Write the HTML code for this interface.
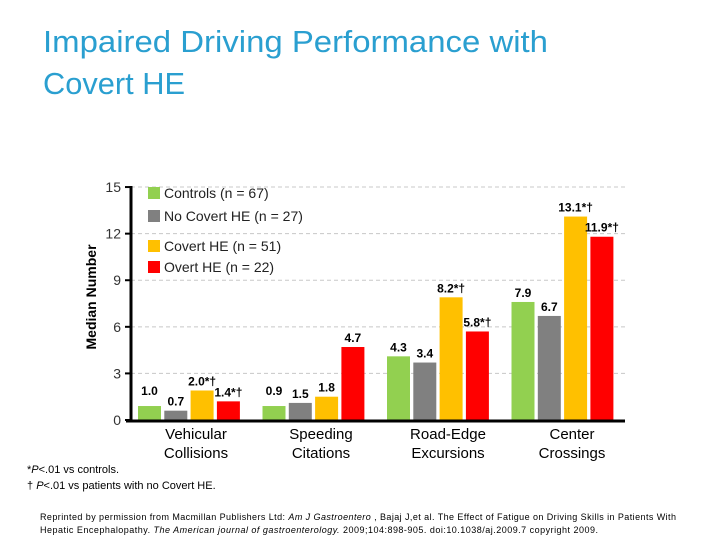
<!DOCTYPE html>
<html><head><meta charset="utf-8"><style>
body{margin:0;background:#fff;}
svg{display:block;font-family:"Liberation Sans",Arial,sans-serif;}
</style></head><body>
<svg id="c" width="720" height="540" viewBox="0 0 720 540">
<text x="43" y="52" font-size="31" fill="#2a9fd0" textLength="505" lengthAdjust="spacingAndGlyphs">Impaired Driving Performance with</text>
<text x="43" y="94" font-size="31" fill="#2a9fd0" textLength="142" lengthAdjust="spacingAndGlyphs">Covert HE</text>
<text transform="translate(96,297) rotate(-90)" text-anchor="middle" font-size="14" font-weight="bold">Median Number</text>
<g id="grid"></g><g id="bars"></g><g id="axes"></g><g id="legend"></g>
<text font-size="15" text-anchor="middle"><tspan x="196" y="439">Vehicular</tspan><tspan x="196" y="458">Collisions</tspan></text>
<text font-size="15" text-anchor="middle"><tspan x="321" y="439">Speeding</tspan><tspan x="321" y="458">Citations</tspan></text>
<text font-size="15" text-anchor="middle"><tspan x="448" y="439">Road-Edge</tspan><tspan x="448" y="458">Excursions</tspan></text>
<text font-size="15" text-anchor="middle"><tspan x="572" y="439">Center</tspan><tspan x="572" y="458">Crossings</tspan></text>
<text x="27" y="473" font-size="11">*<tspan font-style="italic">P</tspan>&lt;.01 vs controls.</text>
<text x="27" y="489" font-size="11">† <tspan font-style="italic">P</tspan>&lt;.01 vs patients with no Covert HE.</text>
<text x="40" y="520" font-size="9" textLength="636">Reprinted by permission from Macmillan Publishers Ltd: <tspan font-style="italic">Am J Gastroentero</tspan> , Bajaj J,et al. The Effect of Fatigue on Driving Skills in Patients With</text>
<text x="40" y="533" font-size="9" textLength="558">Hepatic Encephalopathy. <tspan font-style="italic">The American journal of gastroenterology.</tspan> 2009;104:898-905. doi:10.1038/aj.2009.7  copyright 2009.</text>
</svg>
<script>
const categories=["Vehicular Collisions","Speeding Citations","Road-Edge Excursions","Center Crossings"];
const seriesNames=["Controls (n = 67)","No Covert HE (n = 27)","Covert HE (n = 51)","Overt HE (n = 22)"];
const controls=[0.9,0.9,4.1,7.6];
const noCovert=[0.6,1.1,3.7,6.7];
const covert=[1.9,1.5,7.9,13.1];
const overt=[1.2,4.7,5.7,11.8];
const labelsControls=["1.0","0.9","4.3","7.9"];
const labelsNoCovert=["0.7","1.5","3.4","6.7"];
const labelsCovert=["2.0*†","1.8","8.2*†","13.1*†"];
const labelsOvert=["1.4*†","4.7","5.8*†","11.9*†"];
const yTicks=[0,3,6,9,12,15];
const NS="http://www.w3.org/2000/svg";
const colors=["#92d050","#808080","#ffc000","#ff0000"];
const y0=420,ppu=15.53;
function yScale(v){return y0-v*ppu;}
function xGroup(i){return 138+i*124.5;}
function mk(t,a,p){const e=document.createElementNS(NS,t);for(const k in a)e.setAttribute(k,a[k]);p.appendChild(e);return e;}
const grid=document.getElementById('grid'),bars=document.getElementById('bars'),axes=document.getElementById('axes'),legend=document.getElementById('legend');
yTicks.forEach(t=>{
 if(t>0){const g=mk('line',{x1:131,x2:625,y1:yScale(t),y2:yScale(t),stroke:'#c8c8c8','stroke-dasharray':'4,3'},grid);
 
 }
 const tk=mk('line',{x1:125,x2:131,y1:yScale(t),y2:yScale(t),stroke:'#000','stroke-width':2},axes);
 
 
 const tl=mk('text',{x:121,y:yScale(t)+5,'text-anchor':'end','font-size':14,fill:'#333'},axes);
 tl.textContent=t;
 
 
});
const ax=mk('line',{x1:131,x2:131,y1:yScale(15)-1,y2:y0+2,stroke:'#000','stroke-width':3},axes);


const bx=mk('line',{x1:126,x2:625,y1:y0+1,y2:y0+1,stroke:'#000','stroke-width':3},axes);


const series=[controls,noCovert,covert,overt],labs=[labelsControls,labelsNoCovert,labelsCovert,labelsOvert];
categories.forEach((c,i)=>{
 series.forEach((s,j)=>{
  const x=xGroup(i)+j*26.3,w=23;
  const r=mk('rect',{x:x,y:yScale(s[i]),width:w,height:s[i]*ppu,fill:colors[j]},bars);
  
  
  const t=mk('text',{x:x+w/2,y:yScale(s[i])-5-(j==0&&i<2?6:0),'text-anchor':'middle','font-size':12,'font-weight':'bold'},bars);
  t.textContent=labs[j][i];
  
  
 });
});
const ly=[193,216,246,267];
seriesNames.forEach((n,j)=>{
 const r=mk('rect',{x:148,y:ly[j]-6,width:12,height:12,fill:colors[j]},legend);
 
 
 const t=mk('text',{x:164,y:ly[j]+5,'font-size':14,fill:'#222'},legend);
 t.textContent=n;
 
 
});
</script>
</body></html>
